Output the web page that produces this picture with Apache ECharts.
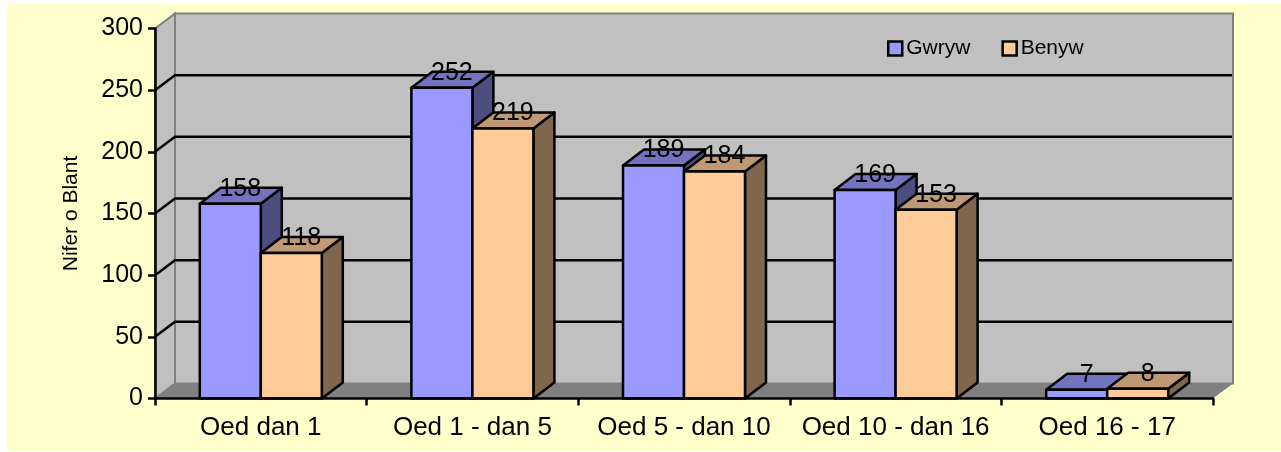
<!DOCTYPE html>
<html>
<head>
<meta charset="utf-8">
<title>Nifer o Blant</title>
<script src="https://cdn.jsdelivr.net/npm/echarts@6/dist/echarts.min.js"></script>
<style>
  html, body { margin: 0; padding: 0; background: #fff; }
  #chart { width: 1281px; height: 452px; }
</style>
</head>
<body>
<div id="chart"></div>
<script>
const categories = ['Oed dan 1', 'Oed 1 - dan 5', 'Oed 5 - dan 10', 'Oed 10 - dan 16', 'Oed 16 - 17'];
const gwryw = [158, 252, 189, 169, 7];
const benyw = [118, 219, 184, 153, 8];
const gridValues = [50, 100, 150, 200, 250];

const FONT = '"Liberation Sans", Arial, sans-serif';
const DX = 20, DY = -15;       // wall depth
const BAR_DX = 21, BAR_DY = -16;
const BAR_SHARE = 61 / 211.6;  // one bar as a share of the category band
const INK = 2.5;

const chart = echarts.init(document.getElementById('chart'));

// plot box: left and back walls plus floor
function renderWalls(params) {
  const g = params.coordSys;
  const l = g.x, r = g.x + g.width, t = g.y, b = g.y + g.height;
  const poly = (points, fill, stroke) => ({
    type: 'polygon', shape: { points },
    style: { fill, stroke: stroke || null, lineWidth: 2 },
  });
  return {
    type: 'group',
    children: [
      poly([[l + DX, t + DY], [r + DX, t + DY], [r + DX, b + DY], [l + DX, b + DY]], '#C0C0C0', '#808080'),
      poly([[l, t], [l + DX, t + DY], [l + DX, b + DY], [l, b]], '#C0C0C0', '#808080'),
      poly([[l, b], [l + DX, b + DY], [r + DX, b + DY], [r, b]], '#808080'),
    ],
  };
}

// grid line: short diagonal on the left wall, long run on the back wall
function renderGridLine(params, api) {
  const g = params.coordSys;
  const y = api.coord([0, api.value(1)])[1];
  return {
    type: 'polyline',
    shape: { points: [[g.x, y], [g.x + DX, y + DY], [g.x + g.width + DX - 1, y + DY]] },
    style: { fill: null, stroke: '#000', lineWidth: INK },
  };
}

// side: -1 sits left of the category centre, 0 sits right of it
function bar3d(side, front, top, dark) {
  return function (params, api) {
    const p = api.coord([api.value(0), api.value(1)]);
    const base = api.coord([api.value(0), 0]);
    const w = api.size([1, 0])[0] * BAR_SHARE;
    const x0 = p[0] + side * w, x1 = x0 + w;
    const y0 = p[1], y1 = base[1];
    const line = { stroke: '#000', lineWidth: INK, lineJoin: 'round' };
    return {
      type: 'group',
      children: [
        { type: 'polygon', shape: { points: [[x1, y0], [x1 + BAR_DX, y0 + BAR_DY], [x1 + BAR_DX, y1 + BAR_DY], [x1, y1]] },
          style: { fill: dark, ...line } },
        { type: 'polygon', shape: { points: [[x0, y0], [x0 + BAR_DX, y0 + BAR_DY], [x1 + BAR_DX, y0 + BAR_DY], [x1, y0]] },
          style: { fill: top, ...line } },
        { type: 'polygon', shape: { points: [[x0, y0], [x1, y0], [x1, y1], [x0, y1]] },
          style: { fill: front, ...line } },
        { type: 'text', z2: 100,
          style: { x: (x0 + x1) / 2 + 10, y: y0 + BAR_DY + 1, text: String(api.value(1)),
                   fill: '#000', font: '25px ' + FONT, textAlign: 'center', textVerticalAlign: 'middle' } },
      ],
    };
  };
}

chart.setOption({
  animation: false,
  textStyle: { fontFamily: FONT },
  graphic: [{
    type: 'rect', z: -10, silent: true,
    shape: { x: 7, y: 4, width: 1274, height: 447 },
    style: { fill: '#FFFFCC' },
  }],
  legend: {
    data: ['Gwryw', 'Benyw'],
    left: 882, top: 33,
    icon: 'rect',
    itemWidth: 14, itemHeight: 14, itemGap: 31,
    itemStyle: { borderColor: '#000', borderWidth: 2.5 },
    textStyle: { color: '#000', fontSize: 21, padding: [0, 0, 0, -1], fontFamily: FONT },
  },
  grid: { left: 155, right: 68, top: 28.5, bottom: 53.5 },
  xAxis: {
    type: 'category',
    data: categories,
    z: 3,
    axisLine: { lineStyle: { color: '#000', width: 2.5 } },
    axisTick: { show: true, length: 7, lineStyle: { color: '#000', width: 2.5 } },
    axisLabel: { color: '#000', fontSize: 26, margin: 16, interval: 0, fontFamily: FONT },
  },
  yAxis: {
    type: 'value',
    min: 0, max: 300, interval: 50,
    z: 3,
    name: 'Nifer o Blant',
    nameLocation: 'middle',
    nameRotate: 90,
    nameGap: 73,
    nameTextStyle: { color: '#000', fontSize: 21, fontFamily: FONT },
    axisLine: { show: true, lineStyle: { color: '#000', width: 2.5 } },
    axisTick: { show: true, length: 7, lineStyle: { color: '#000', width: 2.5 } },
    axisLabel: { color: '#000', fontSize: 25, margin: 12, fontFamily: FONT },
    splitLine: { show: false },
  },
  series: [
    { type: 'custom', name: 'walls', z: 1, silent: true, data: [[0, 0]],
      encode: { x: 0, y: 1 }, renderItem: renderWalls },
    { type: 'custom', name: 'gridlines', z: 1, silent: true, data: gridValues.map((v) => [0, v]),
      encode: { x: 0, y: 1 }, renderItem: renderGridLine },
    { type: 'custom', name: 'Gwryw', z: 2, data: gwryw.map((v, i) => [i, v]),
      encode: { x: 0, y: 1 },
      itemStyle: { color: '#9999FF', borderColor: '#000', borderWidth: 2 },
      renderItem: bar3d(-1, '#9999FF', '#7373BF', '#4D4D80') },
    { type: 'custom', name: 'Benyw', z: 2, data: benyw.map((v, i) => [i, v]),
      encode: { x: 0, y: 1 },
      itemStyle: { color: '#FFCC99', borderColor: '#000', borderWidth: 2 },
      renderItem: bar3d(0, '#FFCC99', '#BF9973', '#80664D') },
  ],
});
</script>
</body>
</html>
